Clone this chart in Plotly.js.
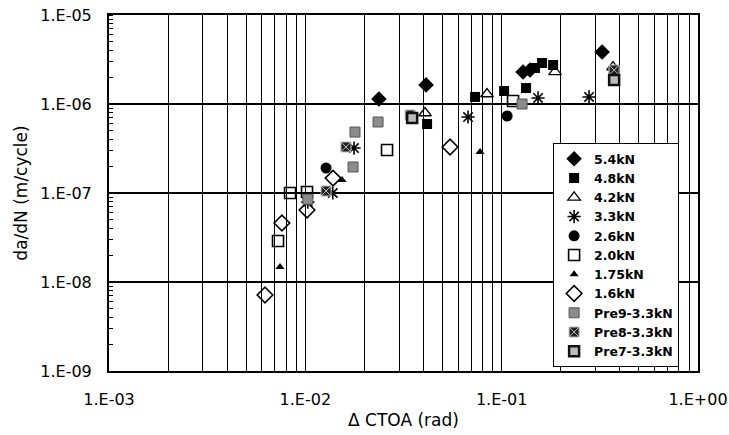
<!DOCTYPE html>
<html><head><meta charset="utf-8">
<script src="https://cdn.plot.ly/plotly-3.0.1.min.js"></script>
<style>html,body{margin:0;padding:0;background:#fff}#chart{width:729px;height:435px}</style>
</head><body><div id="chart"></div>
<script>
// Series names
const names = ['5.4kN','4.8kN','4.2kN','3.3kN','2.6kN','2.0kN','1.75kN','1.6kN','Pre9-3.3kN','Pre8-3.3kN','Pre7-3.3kN'];

// Data (ΔCTOA in rad, da/dN in m/cycle)
const x54 = [0.0237, 0.0412, 0.1285, 0.1395, 0.325];
const y54 = [1.14e-6, 1.64e-6, 2.29e-6, 2.41e-6, 3.84e-6];
const x48 = [0.0417, 0.0732, 0.1029, 0.1331, 0.148, 0.1606, 0.1828];
const y48 = [5.96e-7, 1.20e-6, 1.40e-6, 1.51e-6, 2.54e-6, 2.89e-6, 2.74e-6];
const x42 = [0.0407, 0.0842, 0.187, 0.369];
const y42 = [7.92e-7, 1.295e-6, 2.29e-6, 2.60e-6];
const x33 = [0.0103, 0.0138, 0.0177, 0.0674, 0.1532, 0.2787];
const y33 = [7.9e-8, 1.0e-7, 3.2e-7, 7.14e-7, 1.17e-6, 1.20e-6];
const x26 = [0.01275, 0.1066];
const y26 = [1.91e-7, 7.33e-7];
const x20 = [0.00726, 0.00836, 0.0102, 0.02607, 0.1143];
const y20 = [2.89e-8, 1.0e-7, 1.026e-7, 3.04e-7, 1.08e-6];
const x175 = [0.00743, 0.01538, 0.0776];
const y175 = [1.47e-8, 1.40e-7, 2.89e-7];
const x16 = [0.00623, 0.0076, 0.0102, 0.01384, 0.0546];
const y16 = [7.14e-9, 4.6e-8, 6.44e-8, 1.47e-7, 3.29e-7];
const xPre9 = [0.0103, 0.0175, 0.0179, 0.02346, 0.127, 0.374];
const yPre9 = [8.5e-8, 1.96e-7, 4.84e-7, 6.28e-7, 1.0e-6, 2.12e-6];
const xPre8 = [0.01275, 0.0161, 0.0342, 0.374];
const yPre8 = [1.053e-7, 3.29e-7, 7.52e-7, 2.41e-6];
const xPre7 = [0.0350, 0.374];
const yPre7 = [6.96e-7, 1.86e-6];

// Tick labels
const xTickVals = [0.001, 0.01, 0.1, 1];
const xTickText = ['1.E-03', '1.E-02', '1.E-01', '1.E+00'];
const yTickVals = [1e-9, 1e-8, 1e-7, 1e-6, 1e-5];
const yTickText = ['1.E-09', '1.E-08', '1.E-07', '1.E-06', '1.E-05'];

const xs = [x54, x48, x42, x33, x26, x20, x175, x16, xPre9, xPre8, xPre7];
const ys = [y54, y48, y42, y33, y26, y20, y175, y16, yPre9, yPre8, yPre7];
const markers = [
  {symbol:'diamond', size:12, color:'#000', line:{width:0}},
  {symbol:'square', size:10, color:'#000', line:{width:0}},
  {symbol:'triangle-up-open', size:11, color:'#000', line:{width:1.3, color:'#000'}},
  {symbol:'asterisk-open', size:11, color:'#000', line:{width:1.6, color:'#000'}},
  {symbol:'circle', size:11, color:'#000', line:{width:0}},
  {symbol:'square-open', size:11, color:'#000', line:{width:1.6, color:'#000'}},
  {symbol:'triangle-up', size:8, color:'#000', line:{width:0}},
  {symbol:'diamond-open', size:12, color:'#000', line:{width:1.6, color:'#000'}},
  {symbol:'square', size:10, color:'#8c8c8c', line:{width:1, color:'#555'}},
  {symbol:'square-x', size:10, color:'#222', line:{width:1, color:'#bbb'}},
  {symbol:'square', size:10, color:'#bbb', line:{width:2.5, color:'#111'}}
];

const data = names.map((n, i) => ({
  type:'scatter', mode:'markers', name:n, x:xs[i], y:ys[i], marker:markers[i]
}));

const fontFam = 'DejaVu Sans, Arial, sans-serif';
const layout = {
  width:729, height:435,
  margin:{l:109, r:31, t:15, b:64},
  paper_bgcolor:'#fff', plot_bgcolor:'#fff',
  font:{family:fontFam, color:'#000', size:15},
  showlegend:true,
  legend:{x:0.754, y:0.64, xanchor:'left', yanchor:'top', bgcolor:'#fff',
    bordercolor:'#000', borderwidth:1, font:{family:fontFam, size:12.5, weight:'bold', color:'#000'},
    tracegroupgap:0, itemwidth:30},
  xaxis:{type:'log', range:[-3, 0], tickmode:'array', tickvals:xTickVals, ticktext:xTickText,
    showgrid:true, gridcolor:'#000', gridwidth:1.3, zeroline:false,
    showline:true, linecolor:'#000', linewidth:2, mirror:true, ticks:'', ticklabelstandoff:13,
    tickfont:{family:fontFam, size:16, color:'#000'},
    minor:{dtick:'D1', showgrid:true, gridcolor:'#000', gridwidth:1, ticks:''},
    title:{text:'Δ CTOA (rad)', font:{family:fontFam, size:17, color:'#000'}, standoff:6},
    automargin:false},
  yaxis:{type:'log', range:[-9, -5], tickmode:'array', tickvals:yTickVals, ticktext:yTickText,
    showgrid:true, gridcolor:'#000', gridwidth:1.3, zeroline:false,
    showline:true, linecolor:'#000', linewidth:2, mirror:true, ticks:'', ticklabelstandoff:12,
    tickfont:{family:fontFam, size:16, color:'#000'},
    minor:{dtick:'D1', showgrid:false, ticks:'inside', ticklen:4, tickcolor:'#000', tickwidth:1},
    title:{text:'da/dN (m/cycle)', font:{family:fontFam, size:17, color:'#000'}, standoff:8},
    automargin:false}
};

Plotly.newPlot('chart', data, layout, {displayModeBar:false, staticPlot:true});
</script>
</body></html>
